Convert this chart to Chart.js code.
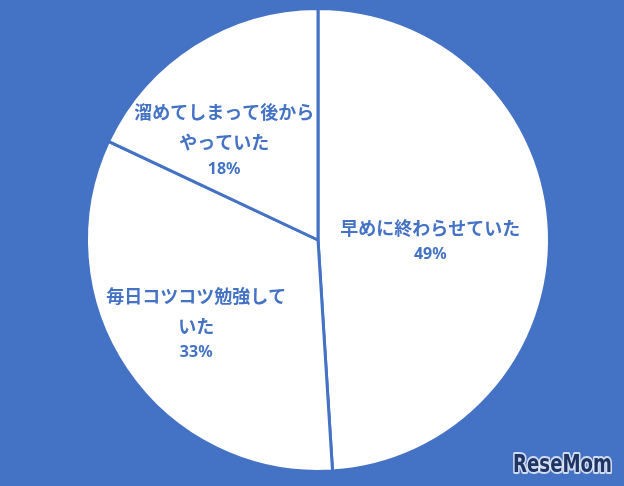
<!DOCTYPE html>
<html>
<head>
<meta charset="utf-8">
<script src="https://cdn.jsdelivr.net/npm/chart.js@4.4.0/dist/chart.umd.min.js"></script>
<style>
  html, body { margin: 0; padding: 0; background: #4472C4; }
  #chart { display: block; }
</style>
</head>
<body>
<canvas id="chart" width="624" height="486"></canvas>
<script>
const categories = [
    ['早めに終わらせていた'],
    ['毎日コツコツ勉強して', 'いた'],
    ['溜めてしまって後から', 'やっていた']
];
const shares = [49, 33, 18];

// label spot per slice: radius fraction, angle shift in degrees from the slice middle
const labelSpots = [
    { r: 0.485, shift: 2.5 },
    { r: 0.64, shift: -0.5 },
    { r: 0.59, shift: -11 }
];

const blue = '#4472C4';

const sliceLabels = {
    id: 'sliceLabels',
    afterDatasetsDraw(chart) {
        const ctx = chart.ctx;
        const arcs = chart.getDatasetMeta(0).data;
        ctx.save();
        ctx.fillStyle = blue;
        ctx.textAlign = 'center';
        ctx.textBaseline = 'middle';
        arcs.forEach((arc, i) => {
            const p = arc.getProps(['x', 'y', 'startAngle', 'endAngle', 'outerRadius'], true);
            const mid = (p.startAngle + p.endAngle) / 2 + labelSpots[i].shift * Math.PI / 180;
            const d = p.outerRadius * labelSpots[i].r;
            const cx = p.x + Math.cos(mid) * d;
            const cy = p.y + Math.sin(mid) * d;
            const lines = categories[i];
            const height = (lines.length - 1) * 30 + 27;
            let y = cy - height / 2;
            ctx.font = 'bold 18px "Noto Sans CJK JP", "Noto Sans", sans-serif';
            lines.forEach(t => {
                ctx.fillText(t, cx, y);
                y += 30;
            });
            y -= 3;
            ctx.font = 'bold 16px "Noto Sans", sans-serif';
            ctx.fillText(shares[i] + '%', cx, y);
        });
        ctx.restore();
    }
};

const watermark = {
    id: 'watermark',
    afterDraw(chart) {
        const ctx = chart.ctx;
        ctx.save();
        ctx.font = 'bold 24px "DejaVu Sans", sans-serif';
        const w = ctx.measureText('ReseMom').width;
        ctx.translate(513, 472);
        ctx.scale(99 / w, 1);
        ctx.textAlign = 'left';
        ctx.textBaseline = 'alphabetic';
        ctx.lineWidth = 4;
        ctx.lineJoin = 'round';
        ctx.strokeStyle = 'rgba(255,255,255,0.75)';
        ctx.strokeText('ReseMom', 0, 0);
        ctx.fillStyle = '#1F3566';
        ctx.fillText('ReseMom', 0, 0);
        ctx.restore();
    }
};

new Chart(document.getElementById('chart').getContext('2d'), {
    type: 'pie',
    data: {
        labels: categories,
        datasets: [{
            data: shares,
            backgroundColor: '#FFFFFF',
            borderColor: blue,
            borderWidth: 3
        }]
    },
    options: {
        responsive: false,
        animation: false,
        layout: { padding: { top: 7, bottom: 13, left: 12, right: 0 } },
        plugins: {
            legend: { display: false },
            tooltip: { enabled: false }
        }
    },
    plugins: [sliceLabels, watermark]
});
</script>
</body>
</html>
